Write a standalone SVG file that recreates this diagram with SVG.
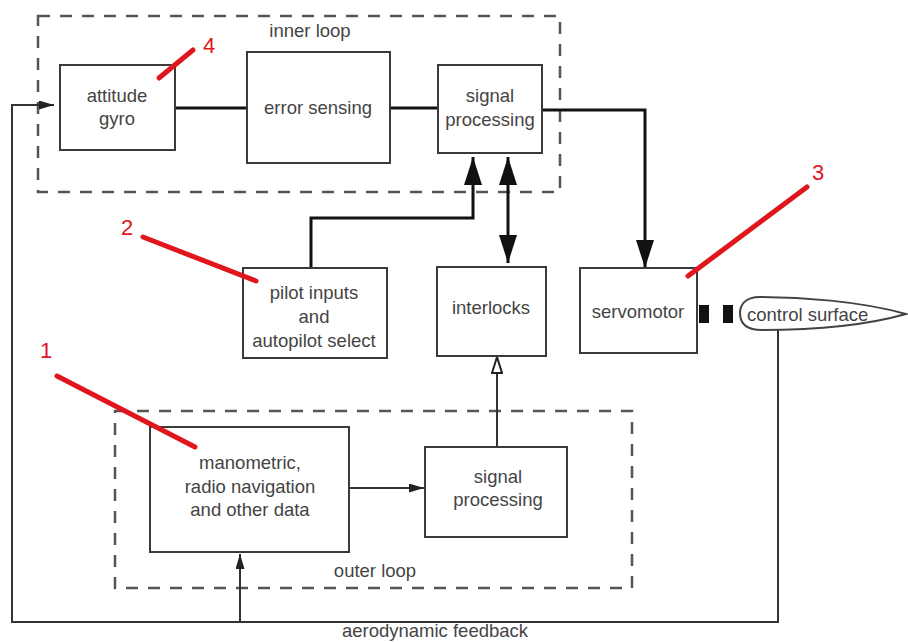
<svg xmlns="http://www.w3.org/2000/svg" width="908" height="642" viewBox="0 0 908 642">
<style>
.box{fill:#fff;stroke:#3a3a3a;stroke-width:2}
.dash{fill:none;stroke:#555;stroke-width:2.5;stroke-dasharray:12 10}
.t{font-family:"Liberation Sans",Arial,sans-serif;font-size:18.5px;fill:#444;text-anchor:middle}
.thick{fill:none;stroke:#111;stroke-width:3}
.thin{fill:none;stroke:#333;stroke-width:2}
.red{stroke:#e0161c;stroke-width:5;stroke-linecap:round;fill:none}
.rt{font-family:"Liberation Sans",Arial,sans-serif;font-size:22px;fill:#e0161c}
</style>
<defs>
<marker id="big" markerUnits="userSpaceOnUse" markerWidth="28" markerHeight="18" refX="28" refY="9" orient="auto-start-reverse" viewBox="0 0 28 18">
<path d="M0,0 L28,9 L0,18 Z" fill="#111"/>
</marker>
<marker id="small" markerUnits="userSpaceOnUse" markerWidth="15" markerHeight="9" refX="15" refY="4.5" orient="auto" viewBox="0 0 15 9">
<path d="M0,0 L15,4.5 L0,9 Z" fill="#222"/>
</marker>
<marker id="open" markerUnits="userSpaceOnUse" markerWidth="18" markerHeight="12" refX="17" refY="6" orient="auto" viewBox="0 0 18 12">
<path d="M1,1 L17,6 L1,11 Z" fill="#fff" stroke="#222" stroke-width="2"/>
</marker>
</defs>
<rect width="908" height="642" fill="#fff"/>

<g id="inner-loop">
<rect class="dash" x="38" y="16" width="522" height="176"/>
<text class="t" x="310" y="37">inner loop</text>
</g>
<g id="outer-loop">
<rect class="dash" x="115" y="411" width="517" height="177"/>
<text class="t" x="375" y="577">outer loop</text>
</g>

<g id="connectors">
<line class="thick" x1="175" y1="108" x2="247" y2="108"/>
<line class="thick" x1="390" y1="108" x2="438" y2="108"/>
<polyline class="thick" points="542,110 645,110 645,268" marker-end="url(#big)"/>
<polyline class="thick" points="311,268 311,218 473,218 473,157" marker-end="url(#big)"/>
<line class="thick" x1="508" y1="157" x2="508" y2="263" marker-start="url(#big)" marker-end="url(#big)"/>
<line class="thin" x1="497" y1="447" x2="497" y2="357" marker-end="url(#open)"/>
<line class="thin" x1="349" y1="488" x2="424" y2="488" marker-end="url(#small)"/>
<polyline class="thin" points="778,330 778,622 12,622 12,105 54,105" marker-end="url(#small)"/>
<line class="thin" x1="240" y1="622" x2="240" y2="554" marker-end="url(#small)"/>
<rect x="699" y="305" width="10" height="18" fill="#111"/>
<rect x="723" y="305" width="10" height="18" fill="#111"/>
<text class="t" x="435" y="637">aerodynamic feedback</text>
</g>

<g id="attitude-gyro">
<rect class="box" x="60" y="65" width="115" height="85"/>
<text class="t" x="117" y="102">attitude</text>
<text class="t" x="117" y="125">gyro</text>
</g>
<g id="error-sensing">
<rect class="box" x="247" y="52" width="143" height="111"/>
<text class="t" x="318" y="114">error sensing</text>
</g>
<g id="signal-processing-inner">
<rect class="box" x="438" y="65" width="104" height="88"/>
<text class="t" x="490" y="102">signal</text>
<text class="t" x="490" y="126">processing</text>
</g>
<g id="pilot-inputs">
<rect class="box" x="243" y="268" width="144" height="90"/>
<text class="t" x="314" y="299">pilot inputs</text>
<text class="t" x="314" y="323">and</text>
<text class="t" x="314" y="347">autopilot select</text>
</g>
<g id="interlocks">
<rect class="box" x="437" y="267" width="109" height="89"/>
<text class="t" x="491" y="314">interlocks</text>
</g>
<g id="servomotor">
<rect class="box" x="580" y="268" width="117" height="85"/>
<text class="t" x="638" y="318">servomotor</text>
</g>
<g id="control-surface">
<path d="M906,314 C860,301 800,297 760,297 C744,297 740,306 740,313 C740,322 745,330 762,330 C800,330 860,327 906,314 Z" fill="#fff" stroke="#444" stroke-width="2"/>
<text class="t" x="747" y="321" style="text-anchor:start">control surface</text>
</g>
<g id="manometric">
<rect class="box" x="150" y="427" width="199" height="125"/>
<text class="t" x="250" y="469">manometric,</text>
<text class="t" x="250" y="493">radio navigation</text>
<text class="t" x="250" y="516">and other data</text>
</g>
<g id="signal-processing-outer">
<rect class="box" x="425" y="447" width="142" height="90"/>
<text class="t" x="498" y="483">signal</text>
<text class="t" x="498" y="506">processing</text>
</g>

<g id="annotations">
<line class="red" x1="159" y1="78" x2="193" y2="50"/>
<text class="rt" x="203" y="53">4</text>
<line class="red" x1="143" y1="237" x2="256" y2="281"/>
<text class="rt" x="121" y="235">2</text>
<line class="red" x1="688" y1="276" x2="807" y2="187"/>
<text class="rt" x="812" y="180">3</text>
<line class="red" x1="57" y1="376" x2="195" y2="447"/>
<text class="rt" x="40" y="358">1</text>
</g>
</svg>
